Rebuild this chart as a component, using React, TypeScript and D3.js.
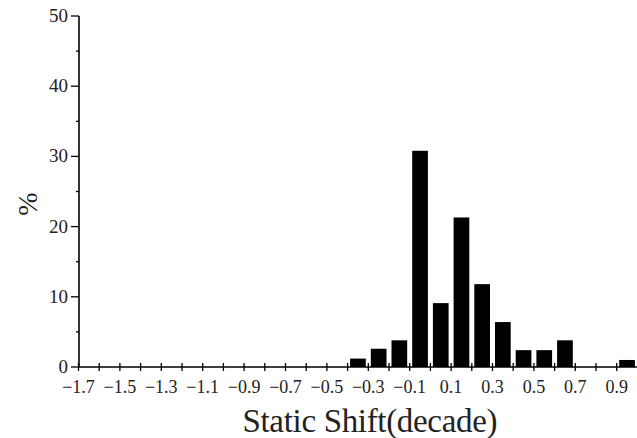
import React from 'react';
import { scaleLinear, range } from 'd3';

const width = 637;
const height = 438;
const margin = { top: 16, right: 0, bottom: 71, left: 79 };

// bin left edges (decade) and percentage per bin
const binStarts = [-0.4, -0.3, -0.2, -0.1, 0.0, 0.1, 0.2, 0.3, 0.4, 0.5, 0.6, 0.9];
const percents = [1.2, 2.6, 3.8, 30.8, 9.1, 21.3, 11.8, 6.4, 2.4, 2.4, 3.8, 1.0];
const binWidth = 0.1;

const xTickLabels = [-1.7, -1.5, -1.3, -1.1, -0.9, -0.7, -0.5, -0.3, -0.1, 0.1, 0.3, 0.5, 0.7, 0.9];
const yTickLabels = [0, 10, 20, 30, 40, 50];

const fontFamily = '"Liberation Serif", "DejaVu Serif", serif';

const fmt = (v: number) => (v < 0 ? '\u2212' + Math.abs(v).toFixed(1) : v.toFixed(1));

const App = () => {
    const xScale = scaleLinear()
        .domain([-1.7, 1.0])
        .range([margin.left - 0.5, margin.left - 0.5 + 2.7 * 207]);
    const yScale = scaleLinear()
        .domain([0, 50])
        .range([height - margin.bottom, margin.top]);

    const y0 = yScale(0);
    const minorX = range(-17, 10).map((d) => d / 10);
    const minorY = range(0, 55, 5);

    return (
        <svg width={width} height={height} style={{ display: 'block', position: 'absolute', left: 0, top: 0, background: '#fff' }}>
            {/* bars */}
            <g className="bars" fill="#000">
                {binStarts.map((b, i) => (
                    <rect
                        key={i}
                        x={xScale(b) + 2.5}
                        y={yScale(percents[i])}
                        width={xScale(b + binWidth) - xScale(b) - 5}
                        height={y0 - yScale(percents[i])}
                    />
                ))}
            </g>

            {/* x axis */}
            <g className="xAxis" stroke="#000">
                <line x1={xScale(-1.7)} x2={width} y1={y0} y2={y0} strokeWidth={1.6} />
                {minorX.map((t) => (
                    <line key={t} x1={xScale(t)} x2={xScale(t)} y1={y0 - 4} y2={y0 + 4} strokeWidth={1.3} />
                ))}
            </g>
            <g className="xLabels" fontFamily={fontFamily} fontSize={18} fill="#222" textAnchor="middle">
                {xTickLabels.map((t) => (
                    <text key={t} x={xScale(t)} y={y0 + 26}>{fmt(t)}</text>
                ))}
            </g>

            {/* y axis */}
            <g className="yAxis" stroke="#000">
                <line x1={margin.left} x2={margin.left} y1={yScale(50)} y2={y0} strokeWidth={1.6} />
                {minorY.map((t) => (
                    <line
                        key={t}
                        x1={margin.left - (t % 10 === 0 ? 8 : 3)}
                        x2={margin.left}
                        y1={yScale(t)}
                        y2={yScale(t)}
                        strokeWidth={1.3}
                    />
                ))}
            </g>
            <g className="yLabels" fontFamily={fontFamily} fontSize={19} fill="#222" textAnchor="end">
                {yTickLabels.map((t) => (
                    <text key={t} x={margin.left - 11} y={yScale(t) + 6}>{t}</text>
                ))}
            </g>

            {/* axis titles */}
            <text
                x={370}
                y={432}
                textAnchor="middle"
                fontFamily={fontFamily}
                fontSize={33}
                textLength={255}
                lengthAdjust="spacing"
                fill="#222"
            >
                Static Shift(decade)
            </text>
            <text
                transform={`translate(37, 204) rotate(-90)`}
                textAnchor="middle"
                fontFamily={fontFamily}
                fontSize={28}
                fill="#222"
            >
                %
            </text>
        </svg>
    );
};

export default App;
